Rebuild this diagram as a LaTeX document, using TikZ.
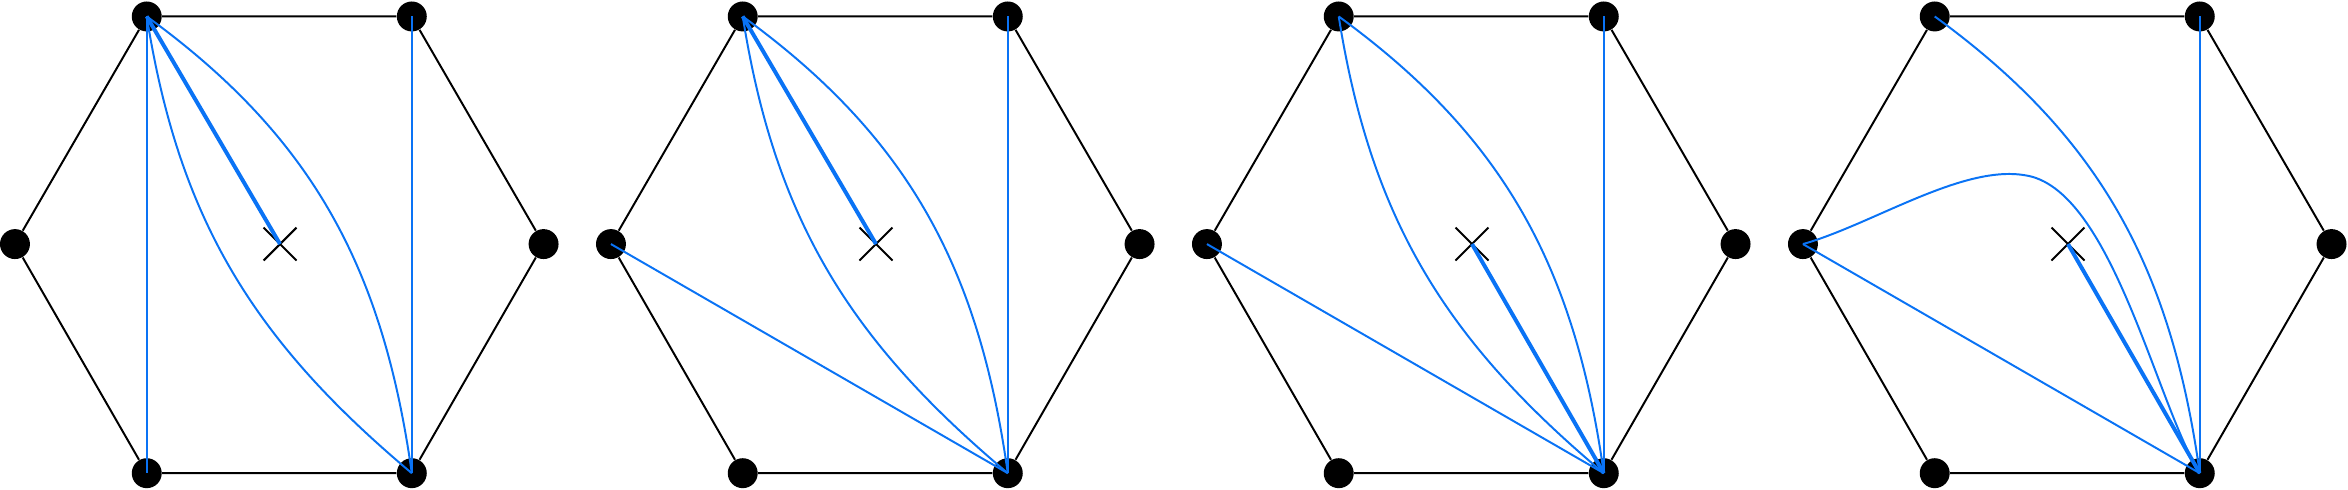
\documentclass[tikz,border=0pt]{standalone}
\definecolor{eblue}{RGB}{10,115,245}
\begin{document}
\begin{tikzpicture}[x=0.02cm,y=-0.02cm,
  vtx/.style={circle,fill=black,inner sep=0pt,minimum size=0.4cm},
  hex/.style={black,line width=0.75pt},
  bl/.style={eblue,line width=0.75pt},
  blt/.style={eblue,line width=1.5pt}]
\useasboundingbox (0,0) rectangle (1568,327);
\foreach \i/\o in {1/0,2/398,3/796,4/1194}{
  \begin{scope}[xshift=\o*0.02cm]
  \coordinate (X\i) at (187,163);
  \node[vtx] (L\i) at (10,163) {};
  \node[vtx] (TL\i) at (98,11) {};
  \node[vtx] (TR\i) at (275,11) {};
  \node[vtx] (R\i) at (363,163) {};
  \node[vtx] (BR\i) at (275,316) {};
  \node[vtx] (BL\i) at (98,316) {};
  \draw[hex] (L\i)--(TL\i)--(TR\i)--(R\i)--(BR\i)--(BL\i)--(L\i);
  \draw[hex] (176,152)--(198,174) (176,174)--(198,152);
  \end{scope}}
% panel 1
\draw[bl] (TL1.center)--(BL1.center);
\draw[blt] (TL1.center)--(X1);
\draw[bl] (TL1.center) to[out=-81,in=140] (BR1.center);
\draw[bl] (TL1.center) to[out=-36,in=98] (BR1.center);
\draw[bl] (TR1.center)--(BR1.center);
% panel 2
\draw[blt] (TL2.center)--(X2);
\draw[bl] (TL2.center) to[out=-81,in=140] (BR2.center);
\draw[bl] (TL2.center) to[out=-36,in=98] (BR2.center);
\draw[bl] (TR2.center)--(BR2.center);
\draw[bl] (L2.center)--(BR2.center);
% panel 3
\draw[bl] (TL3.center) to[out=-81,in=140] (BR3.center);
\draw[bl] (TL3.center) to[out=-36,in=98] (BR3.center);
\draw[bl] (TR3.center)--(BR3.center);
\draw[bl] (L3.center)--(BR3.center);
\draw[blt] (X3)--(BR3.center);
% panel 4
\draw[bl] (TL4.center) to[out=-36,in=98] (BR4.center);
\draw[bl] (TR4.center)--(BR4.center);
\draw[bl] (L4.center)--(BR4.center);
\draw[blt] (X4)--(BR4.center);
\coordinate (M4) at (1352,117);
\draw[bl] (L4.center) .. controls (1250,150) and (1310,110) .. (M4) .. controls (1410,125) and (1440,270) .. (BR4.center);
\end{tikzpicture}
\end{document}
